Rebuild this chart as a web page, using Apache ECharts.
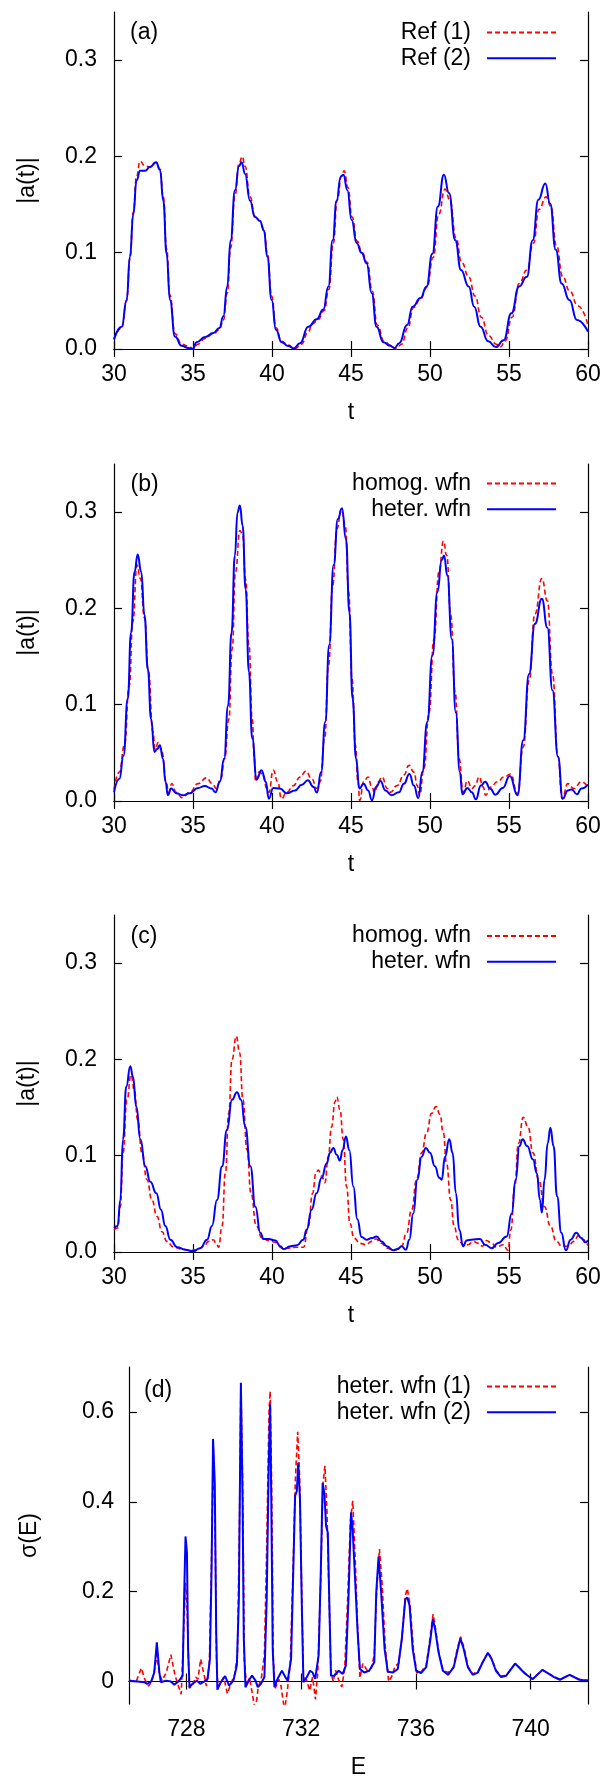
<!DOCTYPE html>
<html>
<head>
<meta charset="utf-8">
<script src="https://cdn.jsdelivr.net/npm/echarts@6/dist/echarts.min.js"></script>
<style>
html,body{margin:0;padding:0;background:#fff;}
#chart{width:608px;height:1780px;}
</style>
</head>
<body>
<div id="chart"></div>
<script>
// ---------- DATA ----------
const panelLabels = ['(a)', '(b)', '(c)', '(d)'];
const legendNames = [
  ['Ref (1)', 'Ref (2)'],
  ['homog. wfn', 'heter. wfn'],
  ['homog. wfn', 'heter. wfn'],
  ['heter. wfn (1)', 'heter. wfn (2)']
];
const xNames = ['t', 't', 't', 'E'];
const yNames = ['|a(t)|', '|a(t)|', '|a(t)|', 'σ(E)'];
const tTicks = [30, 35, 40, 45, 50, 55, 60];
const aTicks = [0, 0.1, 0.2, 0.3];
const eTicks = [728, 732, 736, 740];
const sTicks = [0, 0.2, 0.4, 0.6];

// panel (a)
const a_ref1 = [[30,0.01],[30.49,0.022],[30.8,0.05],[31.01,0.094],[31.22,0.142],[31.43,0.18],[31.65,0.195],[31.96,0.19],[32.28,0.189],[32.66,0.194],[32.91,0.187],[33.12,0.158],[33.33,0.104],[33.54,0.056],[33.86,0.016],[34.28,0.005],[34.7,0.003],[35.05,0],[35.3,0.005],[35.76,0.011],[36.29,0.016],[36.67,0.02],[36.92,0.03],[37.17,0.058],[37.38,0.105],[37.66,0.16],[37.91,0.192],[38.12,0.2],[38.29,0.19],[38.61,0.158],[38.92,0.138],[39.24,0.133],[39.49,0.124],[39.7,0.1],[39.98,0.055],[40.25,0.022],[40.61,0.008],[41.03,0.004],[41.45,0],[41.85,0.005],[42.3,0.018],[42.55,0.026],[42.9,0.03],[43.3,0.04],[43.6,0.062],[43.88,0.11],[44.13,0.155],[44.4,0.18],[44.57,0.185],[44.8,0.168],[45.07,0.137],[45.38,0.112],[45.7,0.1],[46.02,0.09],[46.35,0.06],[46.66,0.025],[47.1,0.008],[47.5,0.004],[47.85,0],[48.2,0.005],[48.6,0.022],[48.95,0.043],[49.4,0.052],[49.8,0.064],[50.2,0.095],[50.55,0.14],[50.95,0.166],[51.25,0.155],[51.65,0.115],[52.0,0.09],[52.45,0.075],[52.85,0.055],[53.25,0.033],[53.7,0.014],[54.2,0.005],[54.45,0.002],[54.75,0.008],[55.2,0.033],[55.65,0.068],[56.13,0.082],[56.55,0.11],[56.9,0.145],[57.35,0.158],[57.65,0.148],[58.0,0.108],[58.4,0.075],[58.85,0.06],[59.35,0.045],[60,0.025]];
const a_ref2 = [[30,0.01],[30.49,0.023],[30.8,0.051],[31.01,0.096],[31.22,0.14],[31.43,0.175],[31.65,0.185],[31.96,0.185],[32.28,0.189],[32.66,0.194],[32.91,0.186],[33.12,0.154],[33.33,0.099],[33.54,0.051],[33.86,0.013],[34.28,0.0034],[34.7,0.001],[34.98,0],[35.23,0.007],[35.76,0.0124],[36.29,0.0166],[36.67,0.0217],[36.92,0.034],[37.17,0.065],[37.38,0.113],[37.66,0.165],[37.91,0.19],[38.08,0.194],[38.29,0.182],[38.61,0.154],[38.92,0.137],[39.24,0.133],[39.49,0.123],[39.7,0.096],[39.98,0.051],[40.25,0.02],[40.61,0.007],[41.03,0.003],[41.39,0.0007],[41.77,0.006],[42.3,0.023],[42.83,0.031],[43.25,0.041],[43.57,0.065],[43.84,0.113],[44.09,0.154],[44.35,0.179],[44.52,0.181],[44.77,0.165],[45.04,0.134],[45.36,0.11],[45.67,0.1],[45.99,0.089],[46.31,0.058],[46.62,0.023],[47.05,0.007],[47.47,0.0034],[47.75,0.001],[48.05,0.006],[48.55,0.025],[48.9,0.044],[49.4,0.053],[49.78,0.065],[50.15,0.099],[50.5,0.148],[50.88,0.181],[51.2,0.162],[51.6,0.113],[51.96,0.082],[52.45,0.065],[52.8,0.044],[53.2,0.023],[53.68,0.008],[54.17,0.002],[54.66,0.009],[55.15,0.037],[55.64,0.065],[56.13,0.075],[56.5,0.113],[56.86,0.155],[57.3,0.172],[57.6,0.151],[57.96,0.103],[58.33,0.068],[58.82,0.051],[59.3,0.03],[60,0.018]];

// panel (b)
const b_homog = [[30.0,0.012],[30.34,0.03],[30.66,0.058],[30.97,0.12],[31.19,0.186],[31.46,0.245],[31.67,0.231],[31.93,0.19],[32.18,0.134],[32.46,0.072],[32.6,0.054],[32.82,0.061],[33.03,0.051],[33.3,0.02],[33.45,0.009],[33.66,0.018],[33.94,0.009],[34.3,0.0035],[34.79,0.009],[35.32,0.018],[35.85,0.024],[36.23,0.018],[36.48,0.013],[36.76,0.023],[37.0,0.044],[37.27,0.085],[37.48,0.158],[37.69,0.238],[37.97,0.281],[38.14,0.276],[38.33,0.23],[38.54,0.162],[38.75,0.085],[38.88,0.044],[38.96,0.02],[39.17,0.03],[39.45,0.028],[39.66,0.013],[39.8,0.009],[40.08,0.032],[40.36,0.02],[40.6,0.0024],[40.93,0.009],[41.36,0.016],[41.78,0.025],[42.14,0.031],[42.52,0.023],[42.84,0.013],[43.05,0.02],[43.33,0.065],[43.58,0.141],[43.84,0.224],[44.11,0.283],[44.39,0.303],[44.64,0.286],[44.85,0.217],[45.06,0.127],[45.28,0.058],[45.44,0.02],[45.55,0.0007],[45.8,0.02],[46.08,0.025],[46.29,0.016],[46.5,0.009],[46.72,0.02],[46.97,0.025],[47.29,0.013],[47.5,0.009],[47.92,0.016],[48.35,0.027],[48.67,0.037],[48.98,0.03],[49.2,0.016],[49.34,0.006],[49.62,0.034],[49.94,0.092],[50.25,0.168],[50.57,0.238],[50.85,0.27],[51.06,0.255],[51.31,0.193],[51.59,0.113],[51.84,0.044],[52.1,0.009],[52.37,0.021],[52.65,0.013],[52.86,0.016],[53.11,0.025],[53.37,0.0145],[53.52,0.006],[53.84,0.0145],[54.27,0.02],[54.7,0.025],[55.1,0.028],[55.54,0.0076],[55.9,0.056],[56.27,0.125],[56.64,0.194],[57.08,0.231],[57.43,0.208],[57.75,0.132],[58.1,0.046],[58.36,0.0024],[58.73,0.018],[59.1,0.013],[59.58,0.02],[60,0.0145]];
const b_heter = [[30.0,0.009],[30.34,0.023],[30.6,0.047],[30.87,0.106],[31.08,0.175],[31.3,0.238],[31.5,0.256],[31.72,0.238],[31.93,0.193],[32.14,0.137],[32.35,0.085],[32.56,0.051],[32.73,0.054],[32.9,0.058],[33.1,0.044],[33.26,0.02],[33.41,0.006],[33.62,0.013],[33.94,0.008],[34.36,0.006],[34.79,0.008],[35.32,0.0135],[35.74,0.0156],[36.17,0.013],[36.42,0.009],[36.7,0.02],[36.97,0.044],[37.22,0.099],[37.44,0.175],[37.65,0.255],[37.82,0.3],[37.97,0.307],[38.14,0.286],[38.33,0.22],[38.54,0.134],[38.75,0.065],[39.03,0.0225],[39.34,0.032],[39.6,0.02],[39.8,0.0024],[40.08,0.0135],[40.5,0.013],[40.93,0.008],[41.46,0.011],[41.89,0.017],[42.27,0.0215],[42.63,0.0145],[42.84,0.0087],[43.11,0.03],[43.37,0.082],[43.62,0.162],[43.9,0.245],[44.17,0.293],[44.43,0.304],[44.68,0.272],[44.9,0.196],[45.1,0.106],[45.32,0.044],[45.53,0.013],[45.8,0.018],[46.08,0.011],[46.33,0.0007],[46.59,0.0145],[46.86,0.0208],[47.18,0.011],[47.56,0.006],[48.03,0.009],[48.35,0.018],[48.7,0.028],[48.98,0.016],[49.26,0.003],[49.51,0.03],[49.83,0.082],[50.15,0.151],[50.47,0.217],[50.74,0.25],[50.89,0.255],[51.1,0.234],[51.38,0.168],[51.63,0.092],[51.89,0.03],[52.05,0.007],[52.37,0.0135],[52.65,0.009],[52.9,0.0017],[53.22,0.016],[53.5,0.02],[53.8,0.013],[54.14,0.0066],[54.6,0.0135],[55.05,0.026],[55.54,0.006],[55.9,0.063],[56.27,0.132],[56.64,0.184],[57.08,0.21],[57.43,0.18],[57.75,0.115],[58.1,0.046],[58.4,0.0024],[58.73,0.011],[58.97,0.012],[59.3,0.007],[59.58,0.013],[60,0.017]];

// panel (c)
const c_homog = [[30,0.023],[30.23,0.025],[30.4,0.047],[30.57,0.103],[30.82,0.158],[31.08,0.184],[31.29,0.168],[31.5,0.137],[31.77,0.103],[32.09,0.075],[32.4,0.054],[32.72,0.037],[33.04,0.021],[33.35,0.011],[33.78,0.005],[34.3,0.003],[34.83,0.0017],[35.25,0.0024],[35.68,0.006],[35.99,0.011],[36.27,0.0128],[36.48,0.009],[36.62,0.005],[36.84,0.027],[37.05,0.082],[37.26,0.144],[37.47,0.2],[37.74,0.224],[37.95,0.207],[38.16,0.158],[38.42,0.106],[38.67,0.061],[39.01,0.027],[39.37,0.0145],[39.79,0.012],[40.21,0.01],[40.63,0.004],[41.05,0.004],[41.58,0.005],[42.0,0.005],[42.3,0.027],[42.57,0.061],[42.78,0.082],[42.93,0.085],[43.14,0.079],[43.35,0.072],[43.56,0.099],[43.77,0.13],[43.99,0.156],[44.1,0.161],[44.3,0.148],[44.51,0.117],[44.72,0.068],[44.93,0.03],[45.19,0.0145],[45.57,0.009],[45.95,0.0076],[46.31,0.011],[46.58,0.0135],[46.94,0.009],[47.3,0.004],[47.78,0.0017],[48.2,0.006],[48.52,0.02],[48.84,0.044],[49.15,0.075],[49.47,0.103],[49.79,0.124],[50.1,0.144],[50.38,0.151],[50.63,0.143],[50.84,0.124],[51.05,0.092],[51.31,0.054],[51.52,0.027],[51.79,0.0128],[52.1,0.0076],[52.42,0.0076],[52.74,0.011],[53.06,0.009],[53.33,0.006],[53.58,0.012],[53.9,0.009],[54.22,0.005],[54.64,0.0076],[54.93,0.0017],[55.12,0.023],[55.36,0.068],[55.6,0.113],[55.9,0.14],[56.2,0.13],[56.52,0.103],[56.88,0.075],[57.25,0.047],[57.62,0.027],[57.99,0.011],[58.36,0.006],[58.73,0.006],[59.1,0.011],[59.4,0.017],[59.71,0.0128],[60,0.0066]];
const c_heter = [[30,0.025],[30.23,0.027],[30.4,0.054],[30.57,0.117],[30.78,0.172],[31.03,0.193],[31.2,0.182],[31.41,0.151],[31.67,0.117],[31.98,0.089],[32.3,0.073],[32.68,0.061],[32.97,0.044],[33.25,0.027],[33.57,0.0128],[33.99,0.005],[34.51,0.0024],[35.0,0.0007],[35.46,0.004],[35.89,0.0128],[36.2,0.027],[36.52,0.054],[36.84,0.089],[37.15,0.127],[37.47,0.158],[37.78,0.166],[38.04,0.158],[38.31,0.13],[38.63,0.089],[38.95,0.047],[39.26,0.02],[39.47,0.0135],[39.79,0.0135],[40.21,0.012],[40.53,0.006],[40.74,0.003],[41.16,0.006],[41.58,0.007],[41.98,0.0128],[42.19,0.023],[42.51,0.044],[42.82,0.061],[43.14,0.077],[43.46,0.092],[43.67,0.103],[43.88,0.108],[44.09,0.101],[44.3,0.095],[44.47,0.106],[44.68,0.12],[44.89,0.106],[45.15,0.068],[45.4,0.034],[45.67,0.0156],[45.99,0.0128],[46.31,0.0145],[46.62,0.016],[46.94,0.011],[47.26,0.006],[47.68,0.0017],[47.95,0.003],[48.2,0.006],[48.48,0.0024],[48.69,0.0128],[48.94,0.04],[49.2,0.075],[49.47,0.099],[49.74,0.108],[50.0,0.103],[50.31,0.089],[50.59,0.077],[50.74,0.075],[50.95,0.099],[51.22,0.117],[51.43,0.103],[51.64,0.061],[51.85,0.023],[52.1,0.006],[52.32,0.012],[52.63,0.0128],[53.16,0.0135],[53.48,0.0076],[53.9,0.004],[54.32,0.0093],[54.85,0.016],[55.17,0.04],[55.42,0.075],[55.66,0.11],[55.86,0.117],[56.15,0.11],[56.52,0.096],[56.76,0.082],[56.96,0.054],[57.08,0.041],[57.25,0.075],[57.45,0.113],[57.62,0.129],[57.82,0.11],[58.04,0.058],[58.31,0.02],[58.6,0.0017],[58.9,0.0128],[59.26,0.02],[59.58,0.0145],[59.83,0.01],[60,0.012]];

// panel (d)
const d_wfn1 = [[726.0,0.003],[726.25,0.0],[726.43,0.03],[726.55,0.005],[726.68,-0.01],[726.8,0.0],[726.9,0.03],[726.97,0.06],[727.05,0.02],[727.15,0.002],[727.3,0.02],[727.46,0.06],[727.6,0.015],[727.72,-0.01],[727.82,-0.028],[727.9,0.1],[727.97,0.22],[728.03,0.15],[728.1,-0.015],[728.22,-0.008],[728.32,0.01],[728.4,0.005],[728.5,0.05],[728.6,0.02],[728.7,-0.01],[728.8,0.04],[728.87,0.25],[728.94,0.52],[729.0,0.35],[729.05,0.05],[729.1,-0.012],[729.22,0.0],[729.3,0.01],[729.43,-0.027],[729.55,-0.005],[729.68,0.015],[729.78,0.06],[729.85,0.35],[729.9,0.665],[729.96,0.45],[730.02,0.05],[730.1,-0.01],[730.2,0.008],[730.28,-0.02],[730.4,-0.065],[730.5,-0.015],[730.62,0.01],[730.72,0.06],[730.8,0.3],[730.88,0.6],[730.92,0.646],[730.97,0.45],[731.03,0.05],[731.1,-0.015],[731.22,0.005],[731.3,-0.01],[731.42,-0.065],[731.52,-0.02],[731.62,0.04],[731.72,0.25],[731.8,0.45],[731.88,0.556],[731.95,0.45],[732.02,0.2],[732.08,0.01],[732.18,0.005],[732.3,-0.02],[732.4,0.01],[732.5,-0.04],[732.58,0.02],[732.68,0.22],[732.76,0.44],[732.83,0.48],[732.9,0.38],[732.97,0.2],[733.04,0.02],[733.12,0.0],[733.2,0.025],[733.3,0.005],[733.42,-0.012],[733.52,0.03],[733.62,0.18],[733.72,0.36],[733.8,0.402],[733.88,0.28],[733.97,0.12],[734.05,0.008],[734.15,0.04],[734.3,0.025],[734.45,0.03],[734.55,0.06],[734.63,0.2],[734.73,0.295],[734.82,0.22],[734.93,0.08],[735.05,0.0],[735.15,0.01],[735.28,0.035],[735.4,0.04],[735.52,0.1],[735.63,0.19],[735.7,0.207],[735.8,0.17],[735.91,0.075],[736.03,0.02],[736.15,0.018],[736.28,0.03],[736.36,0.036],[736.5,0.1],[736.6,0.15],[736.68,0.12],[736.8,0.065],[736.95,0.025],[737.12,0.02],[737.3,0.03],[737.45,0.075],[737.56,0.1],[737.68,0.075],[737.82,0.033],[737.98,0.017],[738.16,0.022],[738.33,0.044],[738.52,0.065],[738.65,0.05],[738.8,0.025],[738.97,0.012],[739.15,0.014],[739.46,0.04],[739.8,0.019],[740.07,0.006],[740.41,0.026],[740.82,0.011],[741.02,0.005],[741.36,0.015],[741.7,0.005],[742,0.003]];
const d_wfn2 = [[726.0,0.002],[726.3,0.0],[726.53,-0.0015],[726.63,-0.005],[726.77,0],[726.88,0.02],[726.97,0.087],[727.06,0.02],[727.11,-0.0015],[727.29,0.002],[727.46,0],[727.58,-0.007],[727.75,0.002],[727.87,0.013],[727.92,0.183],[727.97,0.323],[728.02,0.287],[728.06,0.072],[728.11,-0.0126],[728.21,-0.005],[728.37,0.002],[728.48,-0.005],[728.62,0],[728.74,0.006],[728.82,0.05],[728.88,0.257],[728.93,0.54],[728.99,0.442],[729.04,0.11],[729.08,-0.018],[729.2,-0.0015],[729.35,0.012],[729.49,-0.009],[729.64,0.002],[729.76,0.036],[729.83,0.183],[729.9,0.665],[729.96,0.4],[730.0,0.1],[730.06,-0.0126],[730.17,0.002],[730.29,0.013],[730.41,0.002],[730.49,-0.0126],[730.6,-0.005],[730.72,0.01],[730.8,0.183],[730.87,0.48],[730.92,0.617],[730.96,0.405],[731.01,0.072],[731.07,-0.0126],[731.18,0.006],[731.33,0.024],[731.45,0.01],[731.53,0.002],[731.65,0.05],[731.73,0.257],[731.79,0.413],[731.85,0.424],[731.9,0.487],[731.96,0.405],[732.02,0.183],[732.08,-0.0015],[732.2,0.01],[732.31,0.024],[732.4,0.02],[732.49,0.006],[732.61,0.058],[732.69,0.257],[732.75,0.442],[732.81,0.42],[732.87,0.346],[732.93,0.331],[732.98,0.183],[733.04,0.013],[733.16,0.013],[733.31,0.024],[733.45,0.017],[733.56,0.036],[733.65,0.183],[733.74,0.376],[733.79,0.346],[733.87,0.243],[733.97,0.11],[734.05,0.028],[734.2,0.02],[734.37,0.024],[734.55,0.043],[734.62,0.2],[734.7,0.278],[734.79,0.198],[734.91,0.072],[735.02,0.022],[735.2,0.02],[735.37,0.028],[735.51,0.095],[735.63,0.183],[735.7,0.187],[735.78,0.169],[735.89,0.072],[736.01,0.024],[736.18,0.019],[736.36,0.032],[736.51,0.095],[736.59,0.139],[736.67,0.117],[736.79,0.065],[736.94,0.024],[737.12,0.015],[737.32,0.032],[737.46,0.072],[737.55,0.096],[737.67,0.072],[737.81,0.032],[737.98,0.015],[738.16,0.02],[738.33,0.043],[738.51,0.064],[738.64,0.05],[738.79,0.024],[738.97,0.01],[739.15,0.013],[739.46,0.04],[739.8,0.018],[740.07,0.005],[740.41,0.026],[740.82,0.01],[741.02,0.004],[741.36,0.015],[741.7,0.004],[742,0.002]];

const seriesData = [[a_ref1, a_ref2], [b_homog, b_heter], [c_homog, c_heter], [d_wfn1, d_wfn2]];

// ---------- LAYOUT / STYLE ----------
const FONT = "'Liberation Sans', Arial, Helvetica, sans-serif";
const FS = 23;
const grids = [
  {left: 114, top: 12, width: 474, height: 337},
  {left: 114, top: 464, width: 474, height: 337},
  {left: 114, top: 915, width: 474, height: 337},
  {left: 129, top: 1367, width: 459, height: 337}
];
const legendTops = [21, 472, 924.5, 1375];
const labelPos = [[130, 21.5], [130.5, 473.5], [130.5, 925], [144, 1379]];
const RED = '#ff0000', BLUE = '#0000ff';

const xAxes = [], yAxes = [], series = [], legends = [], titles = [];
const axisLineStyle = {show: true, lineStyle: {color: '#000', width: 1.2}};

for (let i = 0; i < 4; i++) {
  const isD = i === 3;
  const xr = isD ? [726, 742] : [30, 60];
  const yr = isD ? [-0.05, 0.7] : [0, 0.35];
  const xt = isD ? eTicks : tTicks;
  const yt = isD ? sTicks : aTicks;
  const yfmt = isD ? (v => (v === 0 ? '0' : v.toFixed(1))) : (v => v.toFixed(1));
  const tick = vals => ({show: true, inside: true, length: 8, customValues: vals, lineStyle: {color: '#000', width: 1.2}});
  xAxes.push({
    type: 'value', gridIndex: i, position: 'bottom', min: xr[0], max: xr[1],
    axisLine: axisLineStyle, axisTick: tick(xt), splitLine: {show: false},
    axisLabel: {customValues: xt, fontSize: FS, fontFamily: FONT, color: '#000', margin: 14, formatter: v => String(v)},
    name: xNames[i], nameLocation: 'middle', nameGap: 52,
    nameTextStyle: {fontSize: FS, fontFamily: FONT, color: '#000'}
  });
  xAxes.push({
    type: 'value', gridIndex: i, position: 'top', min: xr[0], max: xr[1],
    axisLine: axisLineStyle, axisTick: tick(xt), splitLine: {show: false},
    axisLabel: {show: false}
  });
  yAxes.push({
    type: 'value', gridIndex: i, position: 'left', min: yr[0], max: yr[1],
    axisLine: axisLineStyle, axisTick: tick(yt), splitLine: {show: false},
    axisLabel: {customValues: yt, fontSize: FS, fontFamily: FONT, color: '#000', margin: isD ? 15 : 17, formatter: yfmt},
    name: yNames[i], nameLocation: 'middle', nameGap: isD ? 88 : 75,
    nameTextStyle: {fontSize: FS, fontFamily: FONT, color: '#000'}
  });
  yAxes.push({
    type: 'value', gridIndex: i, position: 'right', min: yr[0], max: yr[1],
    axisLine: axisLineStyle, axisTick: tick(yt), splitLine: {show: false},
    axisLabel: {show: false}
  });
  const sm = isD ? false : 0.5;
  series.push({
    type: 'line', name: legendNames[i][0], xAxisIndex: 2 * i, yAxisIndex: 2 * i,
    data: seriesData[i][0], symbol: 'none', smooth: sm, smoothMonotone: 'x', clip: true,
    lineStyle: {color: RED, width: 1.6, type: [5, 3]}, itemStyle: {color: RED},
    animation: false, z: 2
  });
  series.push({
    type: 'line', name: legendNames[i][1], xAxisIndex: 2 * i, yAxisIndex: 2 * i,
    data: seriesData[i][1], symbol: 'none', smooth: sm, smoothMonotone: 'x', clip: true,
    lineStyle: {color: BLUE, width: 2}, itemStyle: {color: BLUE},
    animation: false, z: 3
  });
  legends.push({
    data: legendNames[i], orient: 'vertical', align: 'right', right: 51, top: legendTops[i],
    padding: 0, itemWidth: 69, itemHeight: 12, itemGap: 2.7, selectedMode: false,
    itemStyle: {color: 'rgba(0,0,0,0)', opacity: 0, borderWidth: 0},
    textStyle: {fontSize: FS, fontFamily: FONT, color: '#000', padding: [0, 11, 0, 0]}
  });
  titles.push({
    text: panelLabels[i], left: labelPos[i][0], top: labelPos[i][1], padding: 0,
    textStyle: {fontSize: FS, fontFamily: FONT, color: '#000', fontWeight: 'normal'}
  });
}

const chart = echarts.init(document.getElementById('chart'), null, {renderer: 'canvas'});
chart.setOption({
  backgroundColor: '#fff',
  animation: false,
  title: titles,
  legend: legends,
  grid: grids,
  xAxis: xAxes,
  yAxis: yAxes,
  series: series
});
</script>
</body>
</html>
